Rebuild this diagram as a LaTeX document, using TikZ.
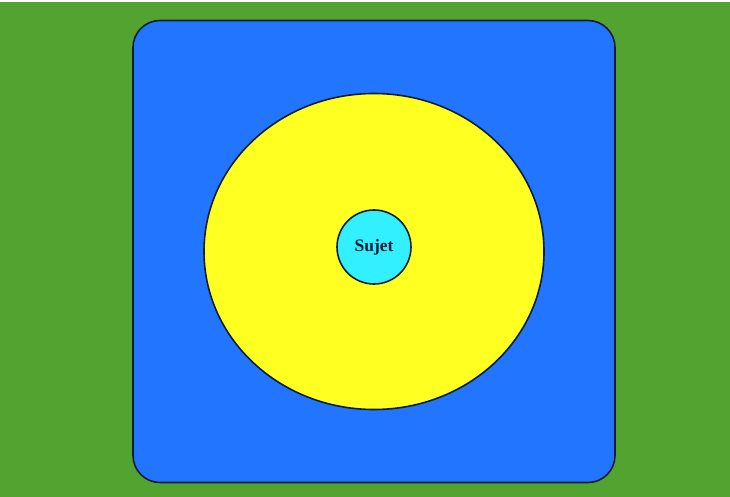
\documentclass[tikz,border=0pt]{standalone}
\usepackage{fontspec}
\usetikzlibrary{shapes.geometric}
\setmainfont{Liberation Serif}
\definecolor{bggreen}{RGB}{82,163,48}
\definecolor{boxblue}{RGB}{33,117,255}
\definecolor{ellyellow}{RGB}{255,255,34}
\definecolor{subcyan}{RGB}{50,240,255}
\definecolor{inkdark}{RGB}{15,30,55}
\begin{document}
\begin{tikzpicture}[x=1pt,y=-1pt,
  outline/.style={draw=inkdark, line width=1.6pt}]
\fill[bggreen] (0,0) rectangle (730,497);
\useasboundingbox (0,0) rectangle (730,497);
\fill[white] (0,0) rectangle (730,2);
\node[outline, fill=boxblue, rectangle, rounded corners=27pt, minimum width=482pt, minimum height=462pt, inner sep=0pt] (env) at (374,251.5) {};
\node[outline, fill=ellyellow, ellipse, minimum width=340pt, minimum height=316pt, inner sep=0pt] (field) at (374,251.5) {};
\node[outline, fill=subcyan, circle, minimum size=74pt, inner sep=0pt, text=inkdark, font=\bfseries\fontsize{17.5}{19}\selectfont] (sujet) at (374,247) {Sujet};
\end{tikzpicture}
\end{document}
